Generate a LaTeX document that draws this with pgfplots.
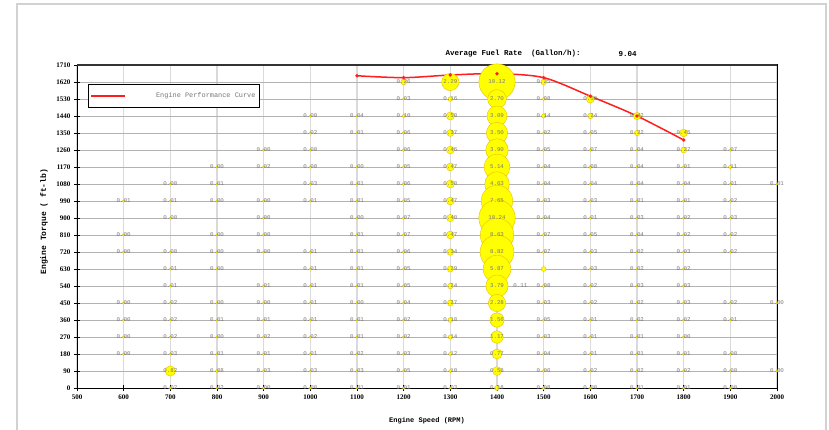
\documentclass[border=0pt]{standalone}
\usepackage{fontspec}
\setmainfont{Liberation Serif}
\newfontfamily\monof{Liberation Mono}
\usepackage{pgfplots}
\usepackage{pgfplotstable}
\pgfplotsset{compat=1.18}
\definecolor{bubblefill}{RGB}{255,255,0}
\definecolor{bubbleedge}{RGB}{235,190,0}
\definecolor{gridv}{RGB}{218,218,218}
\definecolor{gridh}{RGB}{178,178,178}
\definecolor{lblgray}{RGB}{120,120,120}
\definecolor{curvered}{RGB}{255,30,30}

% fuel rate per cell (Gallon/h): rpm, torque, value
\pgfplotstableread{
x y v
600 990 0.01
600 810 0.00
600 720 0.00
600 450 0.00
600 360 0.00
600 270 0.00
600 180 0.00
700 1080 0.00
700 990 0.01
700 900 0.00
700 720 0.00
700 630 0.01
700 540 0.01
700 450 0.02
700 360 0.02
700 270 0.02
700 180 0.03
700 90 0.82
700 0 0.02
800 1170 0.00
800 1080 0.01
800 990 0.00
800 810 0.00
800 720 0.00
800 630 0.00
800 450 0.00
800 360 0.01
800 270 0.00
800 180 0.01
800 90 0.08
800 0 0.02
900 1260 0.00
900 1170 0.02
900 990 0.00
900 900 0.00
900 810 0.00
900 720 0.00
900 540 0.01
900 450 0.00
900 360 0.01
900 270 0.02
900 180 0.01
900 90 0.03
900 0 0.00
1000 1440 0.00
1000 1350 0.02
1000 1260 0.00
1000 1170 0.00
1000 1080 0.03
1000 990 0.01
1000 720 0.01
1000 630 0.01
1000 540 0.01
1000 450 0.01
1000 360 0.01
1000 270 0.02
1000 180 0.01
1000 90 0.03
1000 0 0.00
1100 1440 0.04
1100 1350 0.01
1100 1170 0.00
1100 1080 0.01
1100 990 0.01
1100 900 0.00
1100 810 0.01
1100 720 0.01
1100 630 0.01
1100 540 0.01
1100 450 0.00
1100 360 0.01
1100 270 0.01
1100 180 0.02
1100 90 0.03
1100 0 0.01
1200 1620 0.26
1200 1530 0.03
1200 1440 0.10
1200 1350 0.06
1200 1260 0.06
1200 1170 0.05
1200 1080 0.06
1200 990 0.05
1200 900 0.07
1200 810 0.07
1200 720 0.06
1200 630 0.05
1200 540 0.05
1200 450 0.04
1200 360 0.02
1200 270 0.02
1200 180 0.03
1200 90 0.05
1200 0 0.01
1300 1620 2.29
1300 1530 0.16
1300 1440 0.50
1300 1350 0.37
1300 1260 0.46
1300 1170 0.47
1300 1080 0.50
1300 990 0.47
1300 900 0.40
1300 810 0.47
1300 720 0.34
1300 630 0.29
1300 540 0.24
1300 450 0.27
1300 360 0.18
1300 270 0.14
1300 180 0.12
1300 90 0.10
1300 0 0.03
1400 1620 10.12
1400 1530 2.70
1400 1440 3.09
1400 1350 3.50
1400 1260 3.90
1400 1170 5.14
1400 1080 4.63
1400 990 7.65
1400 900 10.24
1400 810 8.63
1400 720 8.82
1400 630 5.87
1400 540 3.79
1400 450 2.28
1400 360 1.56
1400 270 1.17
1400 180 0.77
1400 90 0.58
1400 0 0.18
1500 1620 0.25
1500 1530 0.08
1500 1440 0.14
1500 1350 0.02
1500 1260 0.05
1500 1170 0.04
1500 1080 0.04
1500 990 0.03
1500 900 0.04
1500 810 0.07
1500 720 0.07
1500 540 0.08
1500 450 0.03
1500 360 0.05
1500 270 0.03
1500 180 0.04
1500 90 0.06
1500 0 0.08
1600 1530 0.50
1600 1440 0.24
1600 1350 0.05
1600 1260 0.07
1600 1170 0.08
1600 1080 0.04
1600 990 0.03
1600 900 0.01
1600 810 0.05
1600 720 0.03
1600 630 0.03
1600 540 0.02
1600 450 0.02
1600 360 0.01
1600 270 0.01
1600 180 0.01
1600 90 0.02
1600 0 0.00
1700 1440 0.42
1700 1350 0.22
1700 1260 0.04
1700 1170 0.04
1700 1080 0.04
1700 990 0.01
1700 900 0.03
1700 810 0.04
1700 720 0.02
1700 630 0.02
1700 540 0.03
1700 450 0.02
1700 360 0.02
1700 270 0.01
1700 180 0.01
1700 90 0.02
1700 0 0.01
1800 1350 0.45
1800 1260 0.27
1800 1170 0.01
1800 1080 0.04
1800 990 0.01
1800 900 0.02
1800 810 0.02
1800 720 0.03
1800 630 0.02
1800 540 0.03
1800 450 0.03
1800 360 0.02
1800 270 0.00
1800 180 0.01
1800 90 0.02
1800 0 0.01
1900 1260 0.07
1900 1170 0.11
1900 1080 0.01
1900 990 0.02
1900 900 0.03
1900 810 0.02
1900 720 0.02
1900 450 0.02
1900 360 0.01
1900 180 0.00
1900 90 0.00
1900 0 0.00
2000 1080 0.01
2000 450 0.00
2000 90 0.00
}\bubbles

\pgfplotsset{
  cell label/.style={
    only marks, mark=none, point meta=explicit, nodes near coords,
    every node near coord/.append style={anchor=center, font=\monof\fontsize{5.8}{6}\selectfont, text=lblgray,
        /pgf/number format/.cd, fixed, fixed zerofill, precision=2},
    forget plot},
}

\begin{document}
\begin{tikzpicture}
\useasboundingbox (0pt,0pt) rectangle (829pt,429pt);
\begin{scope}
\clip (0pt,0pt) rectangle (829pt,429pt);
\draw[gray!35, line width=1.5pt] (17pt,-5pt) -- (17pt,425pt) -- (826pt,425pt) -- (826pt,-5pt);
\end{scope}
\begin{axis}[
    at={(77pt,41pt)}, anchor=south west,
    scale only axis, width=700pt, height=323pt,
    xmin=500, xmax=2000, ymin=0, ymax=1710,
    xtick={500,600,...,2000}, ytick={0,90,...,1710},
    grid=major,
    x grid style={gridv, line width=1.2pt},
    y grid style={gridh, line width=0.8pt},
    axis line style={black, line width=1pt},
    tick style={black, line width=0.8pt},
    tick align=center, major tick length=6pt,
    tick pos=left,
    ticklabel style={font=\bfseries\fontsize{7}{8}\selectfont},
    /pgf/number format/assume math mode=true,
    /pgf/number format/1000 sep={},
    clip=false,
    xlabel={Engine Speed (RPM)},
    xlabel style={font=\monof\bfseries\fontsize{7}{8}\selectfont, at={([yshift=-33pt]rel axis cs:0.5,0)}, anchor=center},
    ylabel={Engine Torque ( ft-lb)},
    ylabel style={font=\monof\bfseries\fontsize{8}{9}\selectfont, at={([xshift=-33pt]rel axis cs:0,0.515)}, anchor=center},
    legend style={at={(0.0157,0.941)}, anchor=north west, draw=black, line width=1.2pt,
        font=\monof\fontsize{6.9}{8}\selectfont, inner xsep=2pt, inner ysep=6pt},
    legend cell align=left,
    legend image code/.code={%
        \pgfsetlinewidth{1.5pt}\pgfsetstrokecolor{curvered}%
        \pgfpathmoveto{\pgfpoint{0pt}{0pt}}\pgfpathlineto{\pgfpoint{34pt}{0pt}}\pgfusepath{stroke}},
]
% bubbles, area proportional to the fuel rate
\addplot[
    scatter, only marks, mark=*,
    scatter/use mapped color={draw=bubbleedge, fill=bubblefill},
    visualization depends on={max(1.2,5.7*sqrt(\thisrow{v}))\as\rad},
    scatter/@pre marker code/.append style={/tikz/mark size=\rad},
    point meta=explicit,
    forget plot,
] table[x=x, y=y, meta=v] {\bubbles};
% cell with a bubble and no label
\addplot[only marks, mark=*, mark size=2.4pt, draw=bubbleedge, fill=bubblefill, forget plot] coordinates {(1500,630)};
% labels
\addplot[cell label] table[x=x, y=y, meta=v] {\bubbles};
\addplot[cell label] coordinates {(1450,540) [0.11]};
% engine performance curve
\addplot[curvered, line width=1.5pt, smooth, mark=*, mark size=0.8pt] coordinates {
    (1100,1653) (1200,1643) (1300,1657) (1400,1664) (1500,1643) (1600,1545) (1700,1440) (1800,1313)};
\addlegendentry{\hspace{28pt}\textcolor{lblgray}{Engine Performance Curve}}
\draw[gray!40!black, line width=1.5pt] (rel axis cs:0,1) -- (rel axis cs:1,1);
\node[anchor=west, font=\monof\bfseries\fontsize{7.5}{8}\selectfont] at (rel axis cs:0.5214,1.034) {Average Fuel Rate~~(Gallon/h):};
\node[anchor=west, font=\monof\bfseries\fontsize{7.5}{8}\selectfont] at (rel axis cs:0.7686,1.034) {9.04};
\end{axis}
\end{tikzpicture}
\end{document}
